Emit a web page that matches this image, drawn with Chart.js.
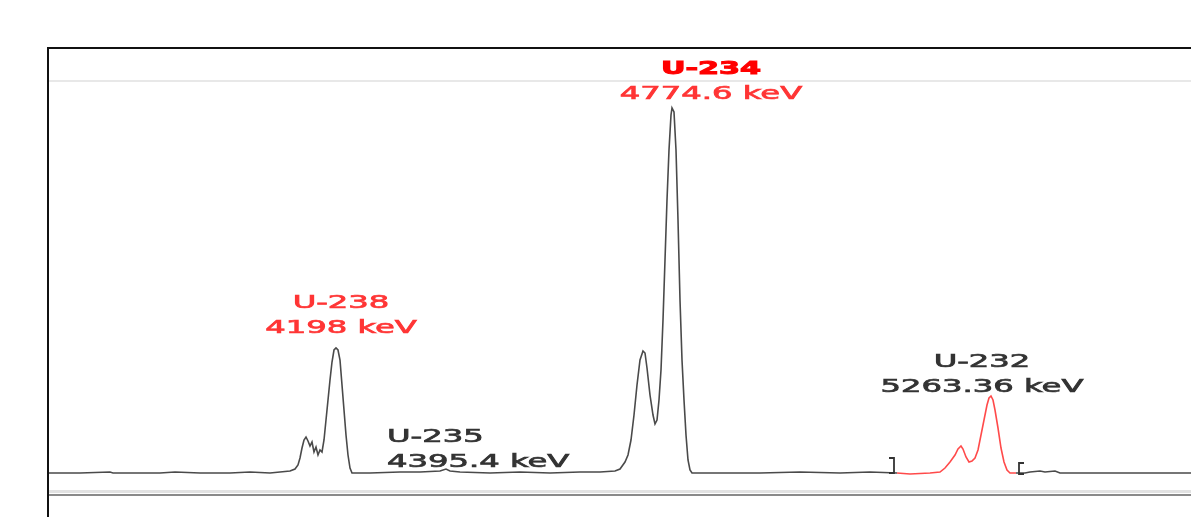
<!DOCTYPE html>
<html>
<head>
<meta charset="utf-8">
<script src="https://cdn.jsdelivr.net/npm/chart.js@4/dist/chart.umd.min.js"></script>
<style>
  html, body { margin: 0; padding: 0; background: #fff; overflow: hidden; }
  #wrap { position: relative; width: 1210px; height: 517px; }
</style>
</head>
<body>
<div id="wrap"><canvas id="spectrum"></canvas></div>
<script>
// spectrum: channel -> counts
const channels = [
  0, 31, 61, 64, 81, 111, 126, 151, 181, 201, 221, 231, 241, 246, 249, 251,
  253, 255, 257, 259, 261, 263, 265, 267, 269, 271, 273, 275, 277, 279, 281,
  283, 285, 287, 289, 291, 293, 295, 297, 299, 301, 303, 321, 351, 371, 391,
  397, 401, 411, 441, 471, 501, 531, 551, 566, 571, 576, 579, 582, 585, 588,
  591, 594, 596, 598, 601, 604, 606, 608, 610, 612, 614, 616, 618, 620, 622,
  623, 625, 627, 629, 631, 633, 635, 637, 639, 641, 643, 671, 711, 751, 791,
  821, 848, 861, 881, 891, 896, 901, 906, 909, 912, 914, 917, 920, 923, 926,
  929, 932, 935, 938, 940, 942, 944, 946, 949, 952, 955, 958, 961, 967, 976,
  981, 991, 996, 1006, 1011, 1051, 1101, 1161,
];
const counts = [
  18, 18, 19, 18, 18, 18, 19, 18, 18, 19, 18, 19, 20, 22, 26, 33,
  43, 51, 54, 50, 45, 49, 39, 44, 36, 41, 39, 51, 71, 91, 111,
  129, 141, 143, 141, 131, 106, 81, 56, 36, 23, 18, 18, 19, 19, 20,
  22, 20, 19, 18, 19, 18, 19, 19, 20, 22, 29, 36, 51, 76, 106,
  131, 140, 138, 123, 96, 76, 67, 71, 91, 121, 171, 231, 291, 341, 376,
  383, 379, 341, 271, 191, 131, 91, 56, 31, 21, 18, 18, 18, 19, 18,
  19, 18, 17, 18, 19, 23, 29, 36, 42, 45, 42, 34, 29, 30, 33,
  41, 56, 71, 86, 93, 95, 91, 81, 63, 43, 29, 21, 18, 18, 18,
  19, 20, 19, 20, 18, 18, 18, 18,
];

// region of interest (drawn red, with brackets)
const roi = [848, 967];

// peak labels
const peakNames = ['U-238', 'U-235', 'U-234', 'U-232'];
const peakEnergies = ['4198 keV', '4395.4 keV', '4774.6 keV', '5263.36 keV'];
const labelChannels = [292, 338, 662, 933];
const labelCounts = [183, 49, 417, 124];
const labelAlign = ['center', 'left', 'center', 'center'];
const labelColors = ['#ff3535', '#333333', '#ff3535', '#333333'];
const labelBold = [false, false, true, false];

const inRoi = (x) => x >= roi[0] && x < roi[1];

const frame = {
  id: 'frame',
  beforeDraw(chart) {
    const { ctx, chartArea: a } = chart;
    const w = a.right - a.left;
    ctx.save();
    ctx.fillStyle = '#111';
    ctx.fillRect(a.left - 2, 47, w + 2, 2);
    ctx.fillRect(a.left - 2, 47, 2, chart.height - 47);
    ctx.fillStyle = '#e8e8e8';
    ctx.fillRect(a.left, a.top - 1, w, 2);
    ctx.fillStyle = '#e2e2e2';
    ctx.fillRect(a.left, a.bottom - 1, w, 3);
    ctx.fillStyle = '#8a8a8a';
    ctx.fillRect(a.left, a.bottom + 3, w, 2);
    ctx.restore();
  },
  afterDatasetsDraw(chart) {
    const { ctx } = chart;
    const xs = chart.scales.x;
    const ys = chart.scales.y;
    ctx.save();
    // ROI brackets
    const base = ys.getPixelForValue(18);
    const x0 = xs.getPixelForValue(roi[0]) - 3;
    const x1 = xs.getPixelForValue(roi[1]) + 3;
    ctx.strokeStyle = '#333';
    ctx.lineWidth = 1.8;
    ctx.beginPath();
    ctx.moveTo(x0 - 5, base - 15);
    ctx.lineTo(x0, base - 15);
    ctx.lineTo(x0, base);
    ctx.lineTo(x0 - 5, base);
    ctx.moveTo(x1 + 5, base - 10);
    ctx.lineTo(x1, base - 10);
    ctx.lineTo(x1, base + 1);
    ctx.lineTo(x1 + 5, base + 1);
    ctx.stroke();

    // peak labels, stretched horizontally like the original
    peakNames.forEach((name, i) => {
      const x = xs.getPixelForValue(labelChannels[i]);
      const y = ys.getPixelForValue(labelCounts[i]);
      const lines = [[name, labelBold[i]], [peakEnergies[i], false]];
      lines.forEach(([txt, bold], j) => {
        ctx.save();
        ctx.translate(x, y + j * 25);
        ctx.scale(bold ? 1.68 : 1.79, 1);
        ctx.font = `${bold ? 'bold ' : ''}18px "DejaVu Sans"`;
        ctx.textAlign = labelAlign[i];
        ctx.textBaseline = 'alphabetic';
        ctx.fillStyle = bold ? '#ff0000' : labelColors[i];
        ctx.strokeStyle = ctx.fillStyle;
        ctx.lineWidth = bold ? 1 : 0.7;
        ctx.fillText(txt, 0, 0);
        ctx.strokeText(txt, 0, 0);
        ctx.restore();
      });
    });
    ctx.restore();
  },
};

// eslint-disable-next-line no-new
new Chart(document.getElementById('spectrum'), {
  type: 'line',
  data: {
    datasets: [{
      label: 'Counts',
      data: channels.map((c, i) => ({ x: c, y: counts[i] })),
      borderColor: '#4a4a4a',
      borderWidth: 1.6,
      pointRadius: 0,
      tension: 0,
      segment: {
        borderColor: (ctx) => (inRoi(ctx.p0.parsed.x) ? '#ff4a4a' : '#4a4a4a'),
      },
    }],
  },
  plugins: [frame],
  options: {
    responsive: true,
    maintainAspectRatio: false,
    animation: false,
    layout: { padding: { left: 49, top: 81, right: 0, bottom: 26 } },
    plugins: {
      legend: { display: false },
      tooltip: { enabled: false },
    },
    scales: {
      x: { type: 'linear', min: 0, max: 1161, display: false },
      y: { min: 0, max: 410, display: false },
    },
  },
});
</script>
</body>
</html>
